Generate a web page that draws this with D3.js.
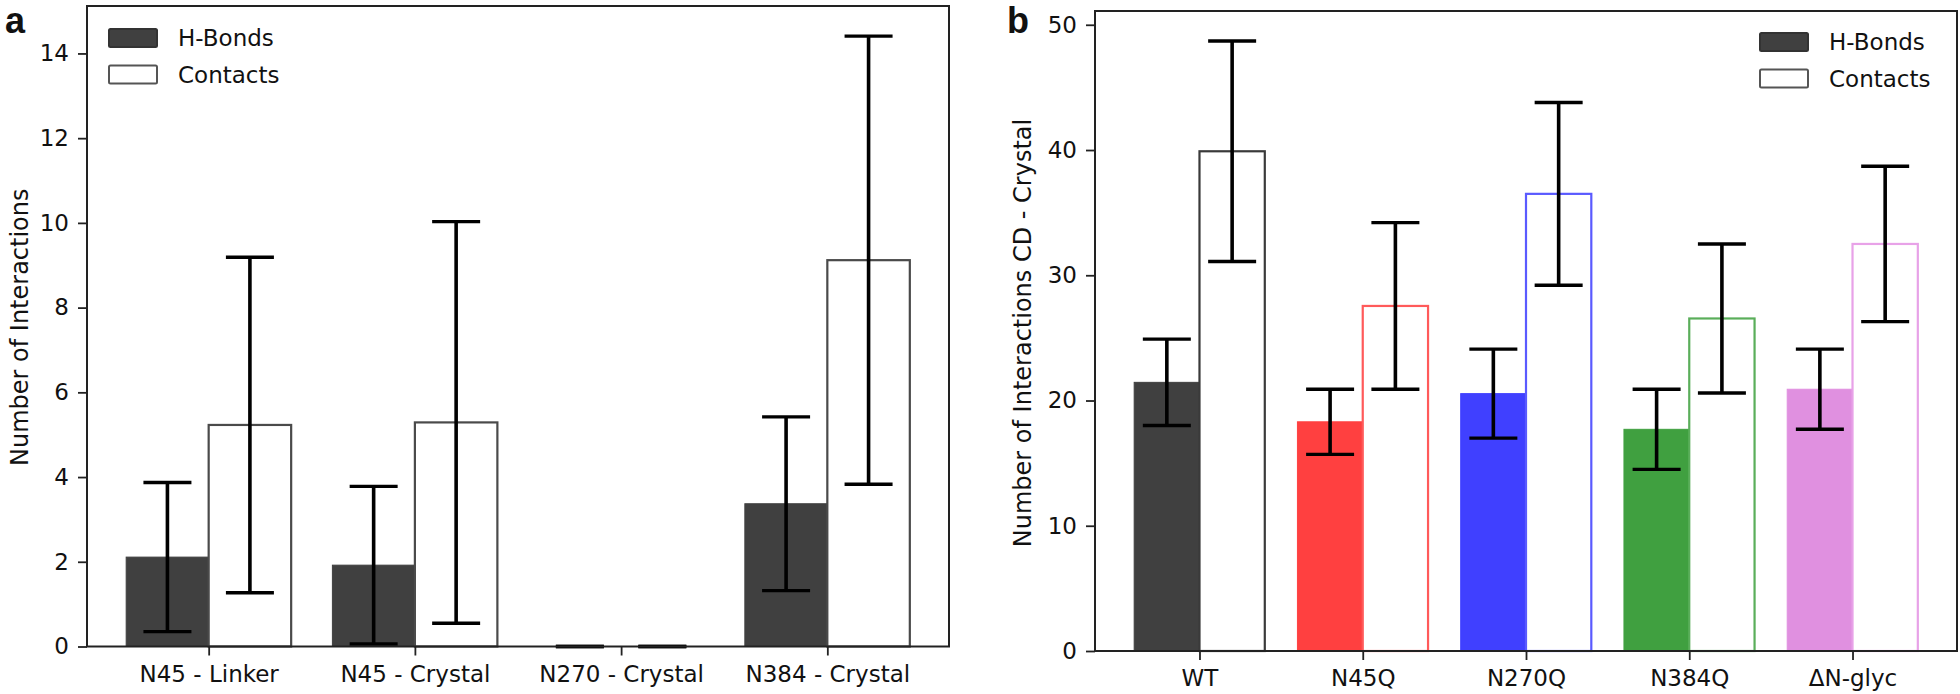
<!DOCTYPE html>
<html><head><meta charset="utf-8">
<script src="https://cdn.jsdelivr.net/npm/d3@7"></script>
<style>
html,body{margin:0;padding:0;background:#fff;}
svg{display:block;}
text{font-family:"DejaVu Sans",sans-serif;fill:#111;}
</style></head>
<body>
<svg id="chart" width="1960" height="694"></svg>
<script>
// ---------- Data ----------
const catsA = ["N45 - Linker", "N45 - Crystal", "N270 - Crystal", "N384 - Crystal"];
const hbondsA = [2.11, 1.92, 0, 3.37];
const hbondsErrA = [1.76, 1.86, 0, 2.05];
const contactsA = [5.23, 5.29, 0, 9.12];
const contactsErrA = [3.96, 4.74, 0, 5.29];
const ticksA = [0, 2, 4, 6, 8, 10, 12, 14];

const catsB = ["WT", "N45Q", "N270Q", "N384Q", "ΔN-glyc"];
const hbondsB = [21.45, 18.3, 20.55, 17.7, 20.9];
const hbondsErrB = [3.45, 2.6, 3.55, 3.2, 3.2];
const contactsB = [39.9, 27.55, 36.5, 26.55, 32.5];
const contactsErrB = [8.8, 6.65, 7.3, 5.95, 6.2];
const ticksB = [0, 10, 20, 30, 40, 50];
const colorsB = ["#404040", "#ff4040", "#4040ff", "#40a040", "#e090e0"];
const edgeB = ["#3a3a3a", "#ff5a5a", "#5a5aff", "#5aae5a", "#e8a2e8"];

const legendLabels = ["H-Bonds", "Contacts"];

const svg = d3.select("#chart");
const FS = 23;

function panel(opts) {
  const g = svg.append("g");
  const n = opts.cats.length;
  const x = d3.scaleLinear().domain(opts.xdom).range(opts.xr);
  const y = d3.scaleLinear().domain(opts.ydom).range(opts.yr);
  const bw = 0.4;

  // H-bond bars
  g.selectAll(".hb").data(opts.h).enter().append("rect")
    .attr("x", (d, i) => x(i - bw)).attr("width", (d, i) => x(i) - x(i - bw))
    .attr("y", d => y(d)).attr("height", d => y(0) - y(d))
    .attr("fill", (d, i) => opts.hColor(i))
    .attr("stroke", (d, i) => opts.hColor(i)).attr("stroke-width", 1);
  // Contacts bars
  g.selectAll(".ct").data(opts.c).enter().append("rect")
    .attr("x", (d, i) => x(i)).attr("width", (d, i) => x(i + bw) - x(i))
    .attr("y", d => y(d)).attr("height", d => y(0) - y(d))
    .attr("fill", "#fff")
    .attr("stroke", (d, i) => opts.cEdge(i)).attr("stroke-width", 2.2);

  // error bars
  const errs = [];
  opts.h.forEach((v, i) => errs.push({ xc: i - bw / 2, v, e: opts.he[i] }));
  opts.c.forEach((v, i) => errs.push({ xc: i + bw / 2, v, e: opts.ce[i] }));
  const cap = 24;
  const eg = g.selectAll(".err").data(errs).enter().append("g");
  eg.append("line").attr("x1", d => x(d.xc)).attr("x2", d => x(d.xc))
    .attr("y1", d => y(d.v + d.e)).attr("y2", d => y(d.v - d.e))
    .attr("stroke", "#000").attr("stroke-width", 3.6);
  eg.append("line").attr("x1", d => x(d.xc) - cap).attr("x2", d => x(d.xc) + cap)
    .attr("y1", d => y(d.v + d.e)).attr("y2", d => y(d.v + d.e))
    .attr("stroke", "#000").attr("stroke-width", 3.4);
  eg.append("line").attr("x1", d => x(d.xc) - cap).attr("x2", d => x(d.xc) + cap)
    .attr("y1", d => y(d.v - d.e)).attr("y2", d => y(d.v - d.e))
    .attr("stroke", "#000").attr("stroke-width", 3.4);

  // axes
  const yAxis = d3.axisLeft(y).tickValues(opts.yticks).tickSize(9).tickPadding(9).tickFormat(d3.format("d"));
  const ya = g.append("g").attr("transform", `translate(${opts.xr[0]},0)`).call(yAxis);
  const xAxis = d3.axisBottom(x).tickValues(d3.range(n)).tickSize(9).tickPadding(10).tickFormat(i => opts.cats[i]);
  const xa = g.append("g").attr("transform", `translate(0,${opts.yr[0]})`).call(xAxis);
  [ya, xa].forEach(a => {
    a.select(".domain").remove();
    a.selectAll(".tick line").attr("stroke", "#222").attr("stroke-width", 1.8);
    a.selectAll(".tick text").attr("font-size", FS).attr("fill", "#111")
      .style("font-family", '"DejaVu Sans",sans-serif');
  });

  // frame
  g.append("rect").attr("x", opts.xr[0]).attr("y", opts.yr[1])
    .attr("width", opts.xr[1] - opts.xr[0]).attr("height", opts.yr[0] - opts.yr[1])
    .attr("fill", "none").attr("stroke", "#222").attr("stroke-width", 2);

  // y label
  g.append("text").attr("transform", `translate(${opts.ylabX},${(opts.yr[0] + opts.yr[1]) / 2 + opts.ylabDy}) rotate(-90)`)
    .attr("text-anchor", "middle").attr("font-size", 24).text(opts.ylabel);

  // panel letter
  svg.append("text").attr("x", opts.letterX).attr("y", opts.letterY)
    .style("font-family", '"Liberation Sans",Arial,sans-serif').attr("font-weight", "bold")
    .attr("font-size", 36).attr("fill", "#000").text(opts.letter);

  // legend
  const lg = g.append("g");
  legendLabels.forEach((lab, k) => {
    const yy = opts.legY + k * 36.5;
    lg.append("rect").attr("x", opts.legX).attr("y", yy).attr("width", 48).attr("height", 18)
      .attr("rx", 1.5)
      .attr("fill", k === 0 ? "#404040" : "#fff")
      .attr("stroke", k === 0 ? "#333" : "#555").attr("stroke-width", 2);
    lg.append("text").attr("x", opts.legX + 69).attr("y", yy + 9).attr("dy", "0.36em")
      .attr("font-size", FS).text(lab);
  });
}

panel({
  cats: catsA, h: hbondsA, he: hbondsErrA, c: contactsA, ce: contactsErrA,
  xdom: [-0.59, 3.59], xr: [87, 949], ydom: [0, 15.12], yr: [646.5, 6],
  yticks: ticksA, hColor: () => "#404040", cEdge: () => "#4a4a4a",
  ylabel: "Number of Interactions", ylabX: 28, ylabDy: 1,
  letter: "a", letterX: 5, letterY: 33,
  legX: 109, legY: 29
});

panel({
  cats: catsB, h: hbondsB, he: hbondsErrB, c: contactsB, ce: contactsErrB,
  xdom: [-0.64, 4.64], xr: [1095, 1957], ydom: [0, 51.1], yr: [651, 11],
  yticks: ticksB, hColor: i => colorsB[i], cEdge: i => edgeB[i],
  ylabel: "Number of Interactions CD - Crystal", ylabX: 1031, ylabDy: 2,
  letter: "b", letterX: 1007, letterY: 33,
  legX: 1760, legY: 33
});
</script>
</body></html>
